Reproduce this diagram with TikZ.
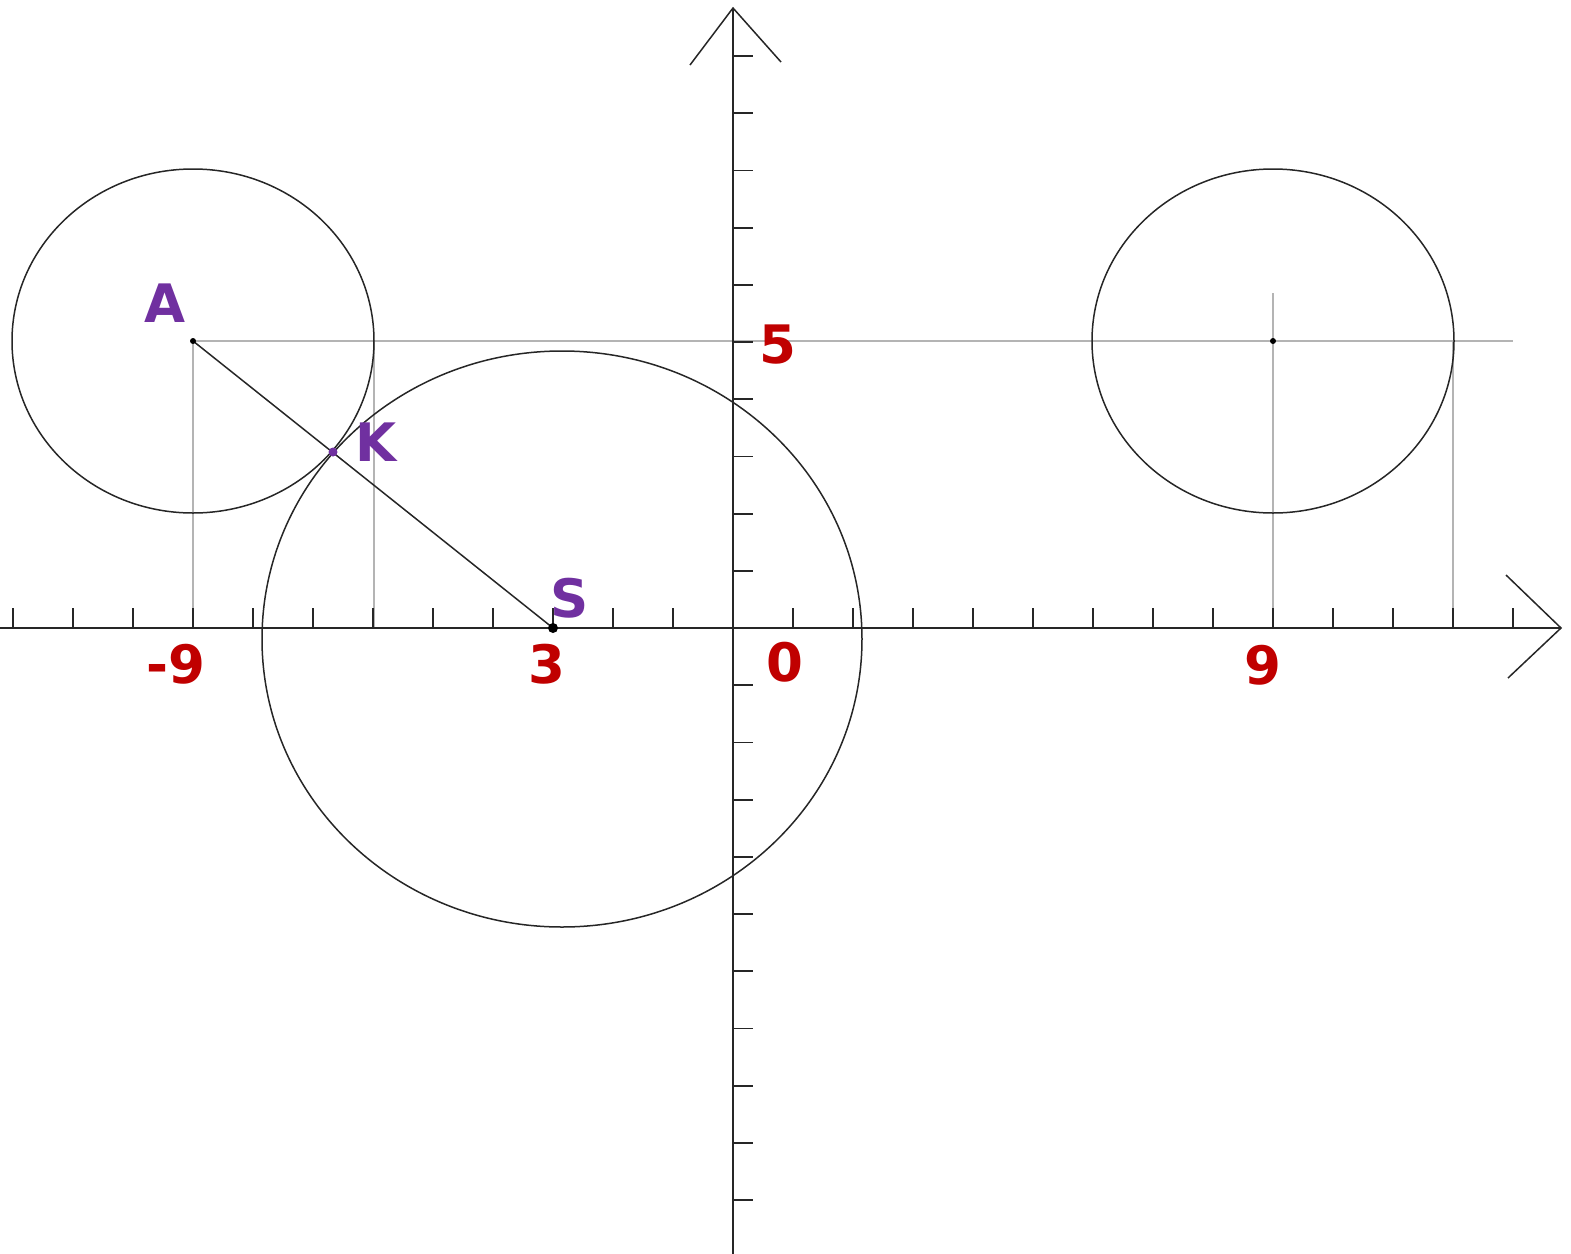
\documentclass[tikz,border=0pt]{standalone}
\usepackage{fontspec}
\setmainfont{DejaVu Sans}
\definecolor{lblpurple}{HTML}{7030A0}
\definecolor{lblred}{HTML}{C00000}
\definecolor{guide}{HTML}{B4B4B4}
\begin{document}
\begin{tikzpicture}[x=0.5pt,y=-0.5pt,
  axis/.style={draw=black!85,line width=1pt},
  tick/.style={draw=black!85,line width=0.9pt},
  curve/.style={draw=black!85,line width=0.75pt},
  guideline/.style={draw=guide,line width=0.75pt},
  plabel/.style={text=lblpurple,font=\fontsize{26.5}{30}\selectfont\bfseries,inner sep=0pt},
  nlabel/.style={text=lblred,font=\fontsize{26.5}{30}\selectfont\bfseries,inner sep=0pt}]
\useasboundingbox (0,0) rectangle (1571,1254);
% guide lines
\coordinate (A) at (193,341);
\coordinate (S) at (553,628);
\coordinate (K) at (333,452);
\coordinate (C2) at (1273,341);
\coordinate (hEnd) at (1513,341);
\draw[guideline] (A) -- (hEnd);
\draw[guideline] (A) -- (193,628);
\draw[guideline] (374,341) -- (374,628);
\draw[guideline] (1273,293) -- (1273,628);
\draw[guideline] (1453,341) -- (1453,628);
% axes
\coordinate (xL) at (0,628);
\coordinate (xR) at (1561,628);
\coordinate (yT) at (733,8);
\coordinate (yB) at (733,1254);
\draw[axis] (xL) -- (xR);
\draw[axis] (yB) -- (yT);
\draw[curve] (690,65) -- (yT) -- (781,62);
\draw[curve] (1506,575) -- (xR) -- (1508,678);
% ticks
\foreach \i in {0,...,25}{\draw[tick] (13+60*\i,628) -- (13+60*\i,608);}
\foreach \j in {-10,...,-1,1,2,...,10}{\draw[tick] (733,628+57.2*\j) -- (753,628+57.2*\j);}
% circles
\draw[curve] (A) ellipse [x radius=181, y radius=172];
\draw[curve] (C2) ellipse [x radius=181, y radius=172];
\draw[curve] (562,639) ellipse [x radius=300, y radius=288];
% segment
\draw[curve] (A) -- (S);
% dots
\fill[black] (A) circle (3);
\fill[black] (C2) circle (3);
\fill[black] (S) circle (5);
\fill[lblpurple] (K) circle (4.5);
% labels
\node[plabel] (lA) at (165,303) {A};
\node[plabel] (lK) at (376,442) {K};
\node[plabel] (lS) at (570,598) {S};
\node[nlabel] (lm9) at (176,664) {-9};
\node[nlabel] (l3) at (547,664) {3};
\node[nlabel] (l0) at (785,662) {0};
\node[nlabel] (l5) at (778,345) {5};
\node[nlabel] (l9) at (1263,665) {9};
\end{tikzpicture}
\end{document}
